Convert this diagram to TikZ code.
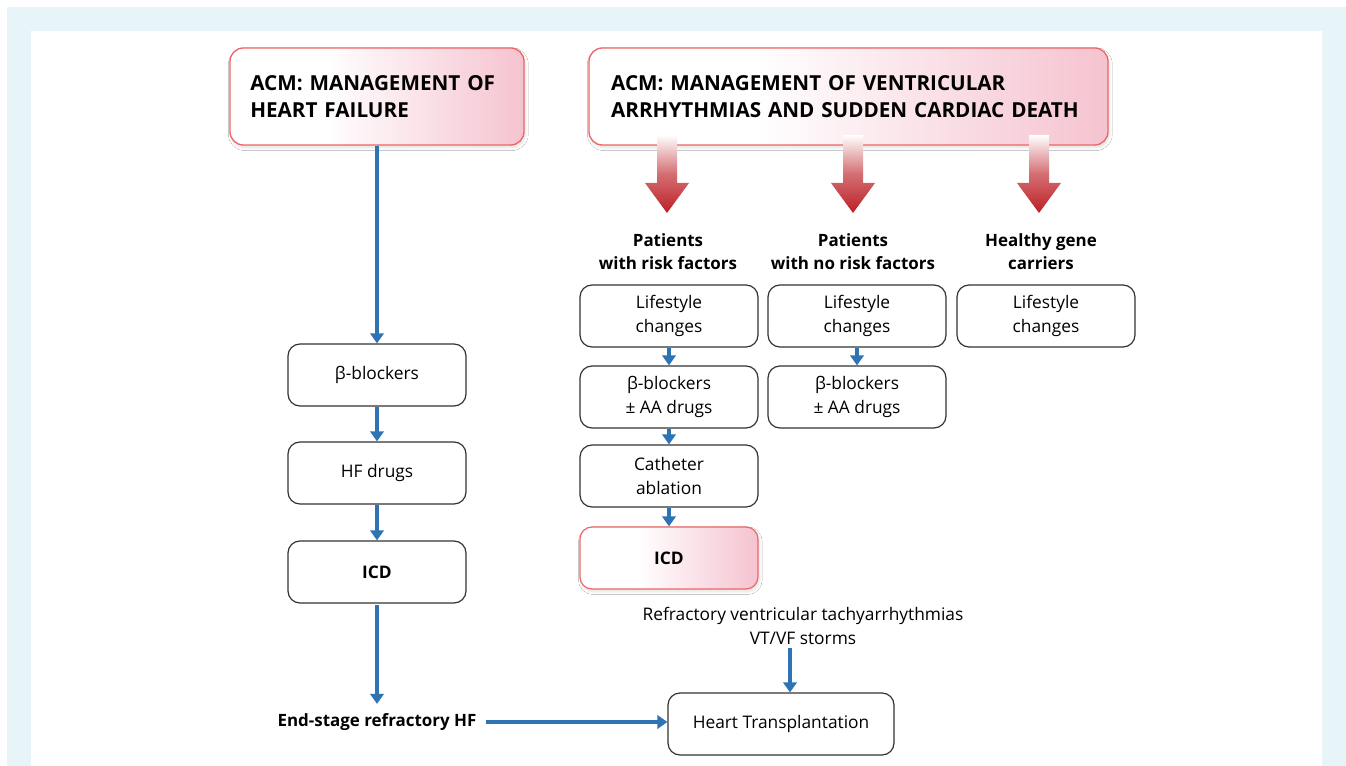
\documentclass[tikz,border=0pt]{standalone}
\usepackage{fontspec}
\setmainfont{Open Sans}
\usetikzlibrary{arrows.meta,shadows.blur,calc}
\definecolor{framebg}{HTML}{E8F5F8}
\definecolor{pinkR}{HTML}{F5C3D0}
\definecolor{redborder}{HTML}{EE6666}
\definecolor{flowblue}{HTML}{2E74B5}
\definecolor{arrowred}{HTML}{BC2026}
\definecolor{boxline}{HTML}{333333}
\pgfdeclarehorizontalshading{hshade}{100bp}{color(0bp)=(white); color(25bp)=(white); color(41bp)=(white); color(75bp)=(pinkR); color(100bp)=(pinkR)}
\tikzset{
  box/.style={draw=boxline, line width=0.9pt, rounded corners=9pt, fill=white, align=center,
    font=\fontsize{13}{18}\selectfont, inner sep=0pt, minimum width=133.5pt, minimum height=46.5pt},
  hbox/.style={draw=redborder, line width=1pt, rounded corners=10pt, shading=hshade,
    blur shadow={shadow blur steps=8, shadow opacity=12, shadow xshift=1pt, shadow yshift=-2pt},
    align=left, inner sep=0pt, font=\fontsize{15.5}{20}\bfseries\selectfont},
  icdred/.style={box, draw=redborder, shading=hshade,
    blur shadow={shadow blur steps=8, shadow opacity=12, shadow xshift=1pt, shadow yshift=-2pt}},
  lbl/.style={align=center, inner sep=1pt, font=\fontsize{12.7}{17.5}\bfseries\selectfont},
  plain/.style={align=center, inner sep=1pt, font=\fontsize{13}{18}\selectfont},
  flow/.style={draw=flowblue, line width=3.2pt, -{Triangle[length=7.5pt,width=10pt]}},
  redarrow/.style={top color=white, bottom color=arrowred, middle color=arrowred!65!white, draw=none}
}
\begin{document}
\begin{tikzpicture}[x=0.75pt,y=-0.75pt]
\useasboundingbox (0,0) rectangle (1346,766);
\fill[framebg] (7,7) rectangle (1346,766);
\fill[white] (31,31) rectangle (1322,766);

% headings
\node[hbox, minimum width=220.5pt, minimum height=72.75pt, text width=190pt] (h1) at (377,96.5)
  {ACM: MANAGEMENT OF\\HEART FAILURE};
\node[hbox, minimum width=389.25pt, minimum height=72.75pt, text width=356pt] (h2) at (848.5,96.5)
  {ACM: MANAGEMENT OF VENTRICULAR\\ARRHYTHMIAS AND SUDDEN CARDIAC DEATH};

% left column
\node[box] (lb1) at (377,375) {β-blockers};
\node[box] (lb2) at (377,473) {HF drugs};
\node[box] (lb3) at (377,572) {\bfseries ICD};
\node[lbl] (es) at (377,722) {End-stage refractory HF};

% group labels
\node[lbl] (g1) at (668,251.5) {Patients\\with risk factors};
\node[lbl] (g2) at (853,251.5) {Patients\\with no risk factors};
\node[lbl] (g3) at (1041,251.5) {Healthy gene\\carriers};

% column 1
\node[box] (a1) at (669,316) {Lifestyle\\changes};
\node[box] (a2) at (669,397) {β-blockers\\± AA drugs};
\node[box] (a3) at (669,476) {Catheter\\ablation};
\node[icdred] (a4) at (669,558) {\bfseries ICD};
% column 2
\node[box] (b1) at (857,316) {Lifestyle\\changes};
\node[box] (b2) at (857,397) {β-blockers\\± AA drugs};
% column 3
\node[box] (c1) at (1046,316) {Lifestyle\\changes};

% refractory
\node[plain] (rv) at (803,626) {Refractory ventricular tachyarrhythmias\\VT/VF storms};
\node[box, minimum width=169.5pt] (ht) at (781,724) {Heart Transplantation};

% red gradient arrows
\foreach \cx in {667,853,1039}{
  \shade[redarrow] (\cx-10,135) -- (\cx+10,135) -- (\cx+10,183) -- (\cx+22,183)
     -- (\cx,213) -- (\cx-22,183) -- (\cx-10,183) -- cycle;
}

% blue connectors
\draw[flow] (h1.south) -- (lb1.north);
\draw[flow] (lb1.south) -- (lb2.north);
\draw[flow] (lb2.south) -- (lb3.north);
\draw[flow] ([yshift=-1pt]lb3.south) -- ([yshift=6pt]es.north);
\draw[flow, shorten <=6pt] (es.east) -- (es.east -| ht.west);
\draw[flow] (a1.south) -- (a2.north);
\draw[flow] (a2.south) -- (a3.north);
\draw[flow] (a3.south) -- (a4.north);
\draw[flow] (b1.south) -- (b2.north);
\coordinate (rvend) at (790,648);
\draw[flow] (rvend) -- (rvend |- ht.north);
\end{tikzpicture}
\end{document}
